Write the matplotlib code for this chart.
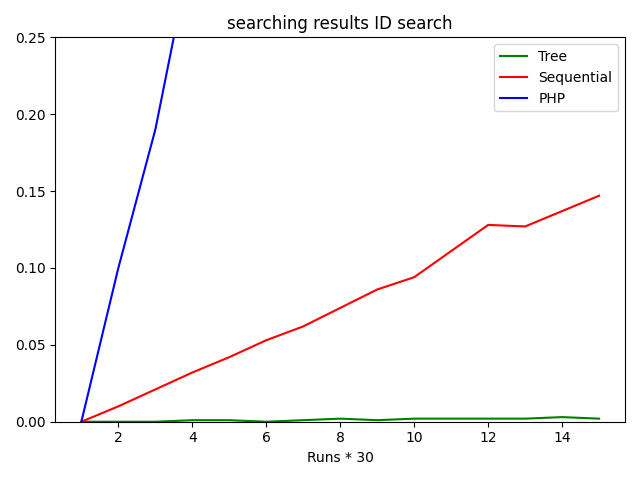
import matplotlib
matplotlib.use("Agg")
import matplotlib.pyplot as plt

runs = list(range(1, 16))
tree = [0, 0, 0, 0.001, 0.001, 0, 0.001, 0.002, 0.001, 0.002, 0.002, 0.002, 0.002, 0.003, 0.002]
sequential = [0, 0.010, 0.021, 0.032, 0.042, 0.053, 0.062, 0.074, 0.086, 0.094, 0.111, 0.128, 0.127, 0.137, 0.147]
php = [0, 0.100, 0.190, 0.31, 0.40, 0.50, 0.60, 0.70, 0.80, 0.90, 1.00, 1.10, 1.20, 1.30, 1.40]

fig = plt.figure(figsize=(6.4, 4.8), dpi=100)
ax = fig.add_subplot(111)
ax.plot(runs, tree, color="green", label="Tree")
ax.plot(runs, sequential, color="red", label="Sequential")
ax.plot(runs, php, color="blue", label="PHP")
ax.set_ylim(0, 0.25)
ax.set_xlabel("Runs * 30")
ax.set_title("searching results ID search")
ax.legend(loc="upper right")
fig.tight_layout()
fig.savefig("out.png")
